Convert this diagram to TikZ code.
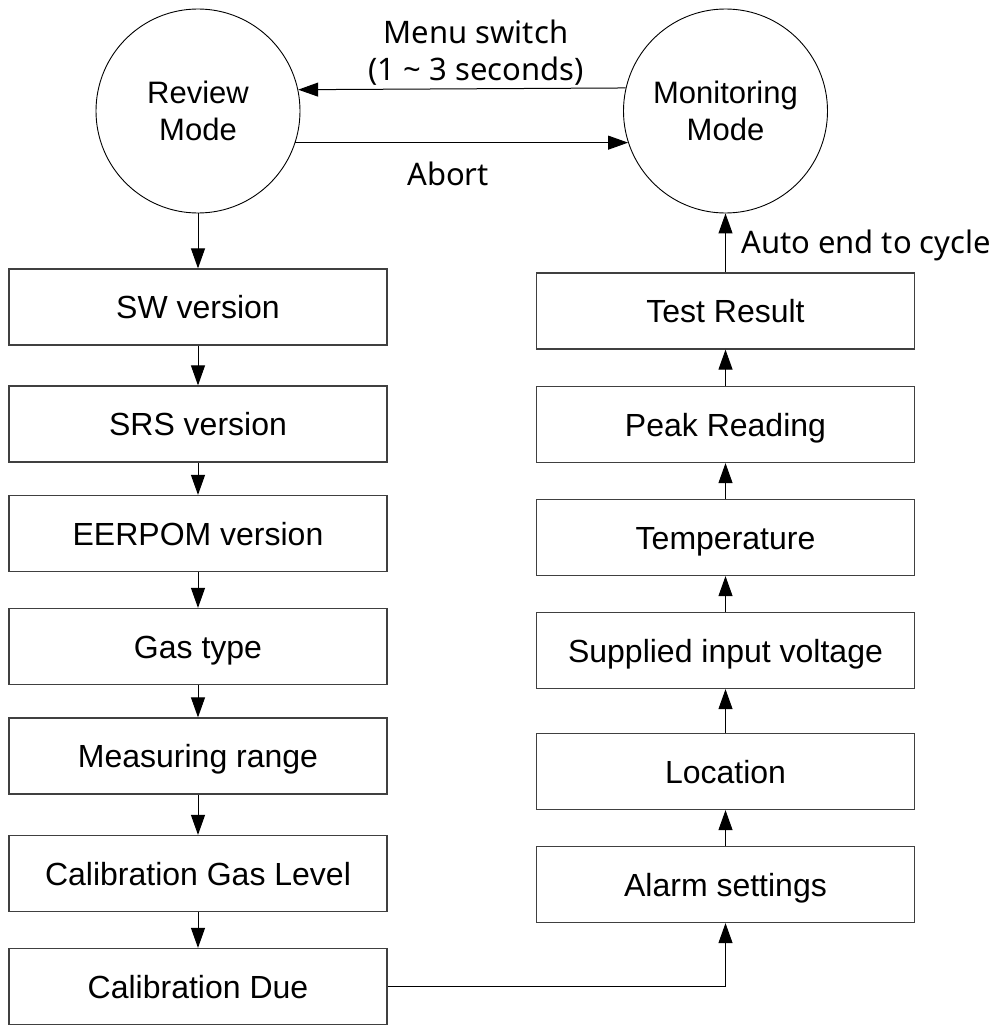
\documentclass[tikz,border=0pt]{standalone}
\usepackage{fontspec}
\setmainfont{Liberation Sans}
\newfontfamily\notosans{Noto Sans}
\usetikzlibrary{positioning,arrows.meta}

\begin{document}
\begin{tikzpicture}[
    x=1pt, y=-1pt,
    mode/.style={draw, circle, minimum size=204pt, inner sep=0pt, line width=0.9pt, align=center, text depth=0pt, font=\fontsize{31}{37}\selectfont},
    item/.style={draw=black!75, line width=1.2pt, minimum width=378pt, minimum height=76pt, inner sep=0pt, text height=23pt, text depth=0pt, font=\fontsize{32}{38}\selectfont},
    lbl/.style={font=\notosans\fontsize{31}{37}\selectfont, align=center, inner sep=0pt},
    arr/.style={-{Triangle[length=20pt, width=14pt]}, line width=1pt},
]
\useasboundingbox (0,0) rectangle (1005,1025);

% the two modes
\node[mode] (review) at (198,111) {Review\\Mode};
\node[mode] (monitor) at (725.5,111) {Monitoring\\Mode};

\draw[arr] (monitor.167.5) -- (review.12.5);
\draw[arr] (review.-18.3) -- (monitor.198.3);
\node[lbl, text depth=0pt] (menu) at (476,50) {Menu switch\\(1 \textasciitilde{} 3 seconds)};
\node[lbl, anchor=base] (abort) at (448,185) {Abort};

% review sequence
\node[item] (sw) at (198,307) {SW version};
\node[item] (srs) at (198,424) {SRS version};
\node[item] (eerpom) at (198,533.5) {EERPOM version};
\node[item] (gas) at (198,646.5) {Gas type};
\node[item] (range) at (198,756) {Measuring range};
\node[item] (calgas) at (198,873.5) {Calibration Gas Level};
\node[item] (caldue) at (198,986.5) {Calibration Due};

\draw[arr] (review) -- (sw);
\draw[arr] (sw) -- (srs);
\draw[arr] (srs) -- (eerpom);
\draw[arr] (eerpom) -- (gas);
\draw[arr] (gas) -- (range);
\draw[arr] (range) -- (calgas);
\draw[arr] (calgas) -- (caldue);

% monitoring sequence
\node[item] (alarm) at (725.5,884.5) {Alarm settings};
\node[item] (loc) at (725.5,771.5) {Location};
\node[item] (volt) at (725.5,650.5) {Supplied input voltage};
\node[item] (temp) at (725.5,537.5) {Temperature};
\node[item] (peak) at (725.5,424.5) {Peak Reading};
\node[item] (test) at (725.5,311) {Test Result};

\draw[arr] (caldue.east) -| (alarm.south);
\draw[arr] (alarm) -- (loc);
\draw[arr] (loc) -- (volt);
\draw[arr] (volt) -- (temp);
\draw[arr] (temp) -- (peak);
\draw[arr] (peak) -- (test);
\draw[arr] (test) -- (monitor);
\node[lbl, anchor=base west] (autoend) at (741,253) {Auto end to cycle};
\end{tikzpicture}
\end{document}
